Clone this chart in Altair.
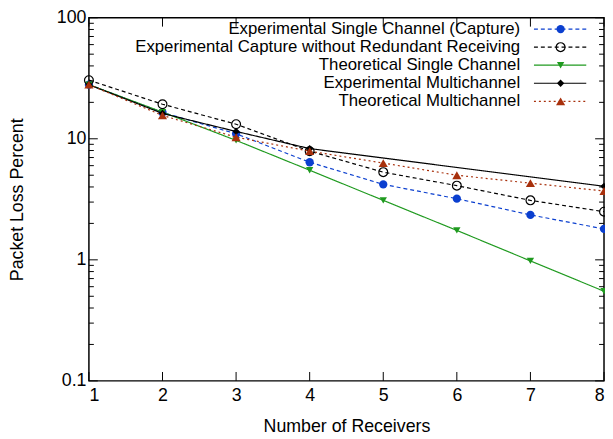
import altair as alt
import pandas as pd

# ---------------- data ----------------
receivers = [1, 2, 3, 4, 5, 6, 7, 8]
exp_single_capture = [28.0, 16.5, 11.0, 6.4, 4.2, 3.2, 2.35, 1.8]
exp_no_redundant = [30.5, 19.3, 13.2, 7.9, 5.3, 4.1, 3.1, 2.5]
theo_single = [28.0, 16.6, 9.7, 5.5, 3.1, 1.75, 0.98, 0.55]
multi_receivers = [1, 2, 3, 4, 8]
exp_multi = [28.0, 16.2, 11.5, 8.3, 4.05]
theo_multi = [28.0, 15.6, 10.3, 7.9, 6.3, 5.0, 4.3, 3.7]

series_names = [
    "Experimental Single Channel (Capture)",
    "Experimental Capture without Redundant Receiving",
    "Theoretical Single Channel",
    "Experimental Multichannel",
    "Theoretical Multichannel",
]
series_x = [receivers, receivers, receivers, multi_receivers, receivers]
series_y = [exp_single_capture, exp_no_redundant, theo_single, exp_multi, theo_multi]

x_ticks = [1, 2, 3, 4, 5, 6, 7, 8]
y_major = [0.1, 1, 10, 100]
y_minor = [k * d for d in [0.1, 1, 10] for k in range(2, 10)]

# ---------------- styles ----------------
colors = ["#0b3fcf", "#000000", "#1f9a1f", "#000000", "#a8300c"]
dashes = [[4, 3], [4, 3], [1, 0], [1, 0], [2, 3]]
shapes = ["circle", "circle", "triangle-down", "diamond", "triangle-up"]
filled = [True, False, True, True, True]
sizes = [70, 80, 55, 55, 85]

W, H = 522, 368
FONT = "Liberation Sans"
FS = 18

xscale = alt.Scale(domain=[1, 8], nice=False, zero=False)
yscale = alt.Scale(type="log", domain=[0.1, 100], nice=False)
axis_style = dict(ticks=False, domain=False, grid=False,
                  labelFont=FONT, titleFont=FONT, labelFontSize=FS, titleFontSize=FS,
                  labelColor="black", titleColor="black", titleFontWeight="normal")
xaxis = alt.Axis(values=x_ticks, format="d", title="Number of Receivers",
                 labelPadding=6, titlePadding=13, **axis_style)
yaxis = alt.Axis(values=y_major, format="~g", title="Packet Loss Percent",
                 labelPadding=3, titlePadding=30, **axis_style)

def X(field):
    return alt.X(field, type="quantitative", scale=xscale, axis=xaxis)

def Y(field):
    return alt.Y(field, type="quantitative", scale=yscale, axis=yaxis)

layers = []

# inward ticks (gnuplot style, mirrored)
ymaj = pd.DataFrame({"v": y_major})
ymin = pd.DataFrame({"v": y_minor})
xt = pd.DataFrame({"v": x_ticks})
tick_style = dict(color="black", strokeWidth=1)
layers += [
    alt.Chart(ymaj).mark_rule(**tick_style).encode(y=Y("v"), x=alt.value(0), x2=alt.value(9)),
    alt.Chart(ymin).mark_rule(**tick_style).encode(y=Y("v"), x=alt.value(0), x2=alt.value(5)),
    alt.Chart(ymaj).mark_rule(**tick_style).encode(y=Y("v"), x=alt.value(W - 9), x2=alt.value(W)),
    alt.Chart(ymin).mark_rule(**tick_style).encode(y=Y("v"), x=alt.value(W - 5), x2=alt.value(W)),
    alt.Chart(xt).mark_rule(**tick_style).encode(x=X("v"), y=alt.value(H - 9), y2=alt.value(H)),
    alt.Chart(xt).mark_rule(**tick_style).encode(x=X("v"), y=alt.value(0), y2=alt.value(9)),
]

# data series
for i, name in enumerate(series_names):
    df = pd.DataFrame({"x": series_x[i], "y": series_y[i], "series": name})
    layers.append(
        alt.Chart(df).mark_line(color=colors[i], strokeDash=dashes[i], strokeWidth=1.2)
        .encode(x=X("x"), y=Y("y"))
    )
    layers.append(
        alt.Chart(df).mark_point(shape=shapes[i], filled=filled[i], size=sizes[i],
                                 color=colors[i], opacity=1, strokeWidth=1.2)
        .encode(x=X("x"), y=Y("y"))
    )

# legend (inside, top right, labels left of symbols)
for i, name in enumerate(series_names):
    ly = 11.5 + 18.3 * i
    ldf = pd.DataFrame({"label": [name]})
    layers.append(
        alt.Chart(ldf).mark_text(align="right", baseline="middle", font=FONT,
                                 fontSize=17, color="black")
        .encode(text="label:N", x=alt.value(437), y=alt.value(ly))
    )
    layers.append(
        alt.Chart(ldf).mark_rule(color=colors[i], strokeDash=dashes[i], strokeWidth=1.2)
        .encode(x=alt.value(451), x2=alt.value(504), y=alt.value(ly))
    )
    layers.append(
        alt.Chart(ldf).mark_point(shape=shapes[i], filled=filled[i], size=sizes[i],
                                  color=colors[i], opacity=1, strokeWidth=1.2)
        .encode(x=alt.value(478), y=alt.value(ly))
    )

chart = (
    alt.layer(*layers)
    .properties(width=W, height=H, background="white",
                autosize=alt.AutoSizeParams(type="none"),
                padding={"left": 82, "top": 7, "right": 1, "bottom": 54})
    .configure_view(stroke="black", strokeWidth=1.5)
)

chart.save("out.html", embed_options={"renderer": "svg", "actions": False})
